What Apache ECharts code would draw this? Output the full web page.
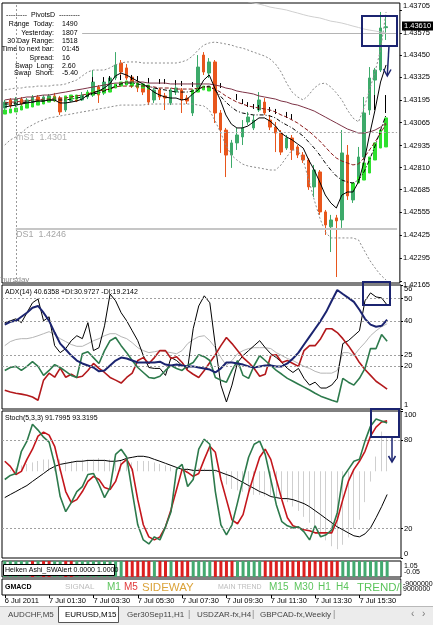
<!DOCTYPE html>
<html>
<head>
<meta charset="utf-8">
<script src="https://cdn.jsdelivr.net/npm/echarts@6/dist/echarts.min.js"></script>
<style>
  html, body { margin: 0; padding: 0; background: #fff; }
  #chart { width: 433px; height: 625px; }
</style>
</head>
<body>
<div id="chart"></div>
<script>
// EURUSD M15, 6 Jul 23:30 .. 7 Jul 16:45 (70 bars, 2 empty slots on the right)
const opens = [1.43148,1.43194,1.43165,1.43199,1.43171,1.43182,1.43211,1.43188,1.43199,1.43217,
  1.43205,1.43137,1.43188,1.43194,1.43194,1.43211,1.43222,1.43268,1.43234,1.43251,
  1.43319,1.43404,1.43376,1.43324,1.43290,1.43268,1.43262,1.43194,1.43251,1.43217,
  1.43177,1.43239,1.43251,1.43205,1.43120,1.43268,1.43449,1.43347,1.43410,1.43120,
  1.43023,1.42881,1.42950,1.42984,1.43069,1.43035,1.43137,1.43182,1.43080,1.43040,
  1.43006,1.42921,1.42978,1.42927,1.42881,1.42853,1.42700,1.42785,1.42558,1.42473,
  1.42524,1.42512,1.42881,1.42626,1.42739,1.42870,1.43137,1.43307,1.43364,1.43605];
const closes = [1.43182,1.43160,1.43199,1.43171,1.43194,1.43211,1.43188,1.43211,1.43217,1.43199,
  1.43126,1.43194,1.43194,1.43188,1.43222,1.43234,1.43296,1.43222,1.43296,1.43319,
  1.43393,1.43353,1.43319,1.43279,1.43262,1.43239,1.43182,1.43251,1.43211,1.43205,
  1.43251,1.43262,1.43194,1.43188,1.43239,1.43381,1.43353,1.43410,1.43120,1.43023,
  1.42881,1.42950,1.42995,1.43035,1.43097,1.43080,1.43194,1.43120,1.43040,1.43006,
  1.42898,1.42978,1.42910,1.42881,1.42853,1.42700,1.42796,1.42558,1.42484,1.42512,
  1.42507,1.42893,1.42649,1.42694,1.42870,1.43120,1.43319,1.43364,1.43603,1.43610];
const lows = [1.43126,1.43148,1.43154,1.43160,1.43160,1.43171,1.43177,1.43177,1.43188,1.43182,
  1.43109,1.43126,1.43182,1.43182,1.43188,1.43199,1.43211,1.43177,1.43222,1.43239,
  1.43307,1.43336,1.43307,1.43262,1.43239,1.43222,1.43165,1.43177,1.43194,1.43137,
  1.43165,1.43222,1.43120,1.43171,1.43103,1.43251,1.43336,1.43319,1.43063,1.42893,
  1.42756,1.42808,1.42910,1.42938,1.43052,1.43023,1.43126,1.43109,1.43023,1.42898,
  1.42881,1.42910,1.42853,1.42864,1.42836,1.42683,1.42643,1.42541,1.42427,1.42330,
  1.42188,1.42467,1.42626,1.42609,1.42722,1.42853,1.43109,1.43211,1.43353,1.43535];
const highs = [1.43194,1.43205,1.43211,1.43211,1.43205,1.43222,1.43222,1.43222,1.43228,1.43234,
  1.43217,1.43205,1.43211,1.43205,1.43239,1.43251,1.43364,1.43279,1.43307,1.43330,
  1.43466,1.43421,1.43398,1.43336,1.43302,1.43279,1.43273,1.43262,1.43262,1.43234,
  1.43262,1.43279,1.43262,1.43222,1.43251,1.43449,1.43466,1.43432,1.43421,1.43137,
  1.43035,1.42967,1.43035,1.43080,1.43126,1.43109,1.43239,1.43205,1.43109,1.43069,
  1.43023,1.42995,1.42995,1.42938,1.42898,1.42864,1.42825,1.42796,1.42569,1.42541,
  1.42541,1.43023,1.42938,1.42711,1.42927,1.43211,1.43381,1.43376,1.43694,1.43677];

// moving averages and envelope on the price panel
const maFast = [1.43154,1.43160,1.43165,1.43171,1.43177,1.43182,1.43188,1.43188,1.43194,1.43194,
  1.43177,1.43177,1.43182,1.43188,1.43199,1.43222,1.43234,1.43245,1.43262,1.43285,
  1.43330,1.43347,1.43336,1.43319,1.43302,1.43285,1.43262,1.43239,1.43222,1.43211,
  1.43205,1.43205,1.43194,1.43199,1.43228,1.43251,1.43307,1.43336,1.43262,1.43194,
  1.43109,1.43057,1.43035,1.43035,1.43046,1.43069,1.43092,1.43092,1.43074,1.43046,
  1.43006,1.42984,1.42967,1.42944,1.42921,1.42853,1.42796,1.42728,1.42654,1.42609,
  1.42580,1.42654,1.42671,1.42671,1.42728,1.42841,1.42995,1.43137,1.43296,1.43393];
const maMid = [1.43171,1.43171,1.43177,1.43177,1.43182,1.43182,1.43188,1.43188,1.43194,1.43194,
  1.43194,1.43194,1.43199,1.43205,1.43211,1.43217,1.43228,1.43234,1.43245,1.43256,
  1.43273,1.43285,1.43290,1.43290,1.43285,1.43279,1.43273,1.43262,1.43256,1.43251,
  1.43245,1.43239,1.43239,1.43239,1.43245,1.43256,1.43268,1.43273,1.43251,1.43217,
  1.43182,1.43154,1.43131,1.43120,1.43114,1.43109,1.43109,1.43109,1.43103,1.43092,
  1.43069,1.43052,1.43035,1.43012,1.42989,1.42955,1.42921,1.42881,1.42836,1.42796,
  1.42762,1.42739,1.42728,1.42722,1.42739,1.42785,1.42853,1.42932,1.43023,1.43109];
const maRed = [1.43177,1.43182,1.43182,1.43188,1.43188,1.43194,1.43194,1.43199,1.43199,1.43205,
  1.43205,1.43205,1.43211,1.43217,1.43222,1.43228,1.43239,1.43245,1.43251,1.43256,
  1.43268,1.43273,1.43273,1.43273,1.43273,1.43273,1.43268,1.43268,1.43262,1.43262,
  1.43262,1.43256,1.43256,1.43256,1.43256,1.43262,1.43268,1.43268,1.43256,1.43239,
  1.43217,1.43199,1.43182,1.43171,1.43160,1.43154,1.43148,1.43143,1.43137,1.43126,
  1.43109,1.43097,1.43080,1.43063,1.43040,1.43018,1.42989,1.42961,1.42927,1.42893,
  1.42864,1.42847,1.42836,1.42825,1.42830,1.42864,1.42910,1.42955,1.43006,1.43057];
const maSlow = [1.43194,1.43199,1.43199,1.43205,1.43211,1.43211,1.43217,1.43222,1.43222,1.43228,
  1.43234,1.43239,1.43245,1.43251,1.43256,1.43262,1.43268,1.43273,1.43279,1.43285,
  1.43290,1.43290,1.43296,1.43296,1.43296,1.43296,1.43290,1.43290,1.43290,1.43290,
  1.43285,1.43285,1.43285,1.43285,1.43285,1.43285,1.43285,1.43285,1.43279,1.43273,
  1.43262,1.43256,1.43245,1.43239,1.43234,1.43228,1.43217,1.43211,1.43205,1.43199,
  1.43188,1.43182,1.43171,1.43165,1.43154,1.43143,1.43131,1.43114,1.43097,1.43080,
  1.43063,1.43046,1.43029,1.43018,1.43006,1.43006,1.43012,1.43023,1.43040,1.43063];
const bandUp = [1.43251,1.43256,1.43262,1.43262,1.43268,1.43268,1.43273,1.43273,1.43273,1.43279,
  1.43279,1.43285,1.43296,1.43307,1.43330,1.43353,1.43364,1.43364,1.43364,1.43376,
  1.43393,1.43404,1.43410,1.43410,1.43410,1.43404,1.43404,1.43404,1.43404,1.43404,
  1.43404,1.43404,1.43410,1.43421,1.43444,1.43478,1.43506,1.43518,1.43523,1.43518,
  1.43512,1.43506,1.43495,1.43489,1.43478,1.43466,1.43455,1.43444,1.43427,1.43398,
  1.43353,1.43290,1.43239,1.43211,1.43194,1.43222,1.43262,1.43285,1.43290,1.43268,
  1.43234,1.43194,1.43137,1.43092,1.43069,1.43148,1.43251,1.43353,1.43478,1.43694];
const bandDn = [1.42938,1.42967,1.42984,1.43006,1.43035,1.43052,1.43069,1.43080,1.43092,1.43097,
  1.43103,1.43109,1.43114,1.43120,1.43126,1.43131,1.43137,1.43143,1.43148,1.43154,
  1.43160,1.43165,1.43165,1.43165,1.43165,1.43165,1.43171,1.43171,1.43171,1.43171,
  1.43171,1.43171,1.43171,1.43171,1.43171,1.43165,1.43160,1.43137,1.43080,1.43012,
  1.42938,1.42881,1.42853,1.42830,1.42819,1.42813,1.42808,1.42802,1.42796,1.42796,
  1.42825,1.42870,1.42910,1.42910,1.42853,1.42739,1.42626,1.42524,1.42444,1.42410,
  1.42410,1.42410,1.42410,1.42410,1.42399,1.42342,1.42285,1.42240,1.42200,1.42171];
const maLong = ['-','-','-','-','-','-','-','-','-','-','-','-','-','-','-','-','-','-','-','-',
  '-','-','-','-','-','-','-','-','-','-','-','-','-','-','-','-','-','-','-','-',
  '-','-','-','-',1.43752,1.43745,1.43739,1.43731,1.43722,1.43716,
  1.43711,1.43705,1.43696,1.43688,1.43679,1.43671,1.43665,1.43660,1.43651,1.43642,
  1.43637,1.43631,1.43623,1.43614,1.43606,1.43597,1.43591,1.43586,1.43580,1.43574];
// lime trend marks: bottom / top
const limeLo = [1.43114,1.43120,1.43126,1.43137,1.43148,1.43154,1.43165,1.43171,1.43182,1.43188,
  '-',1.43194,1.43199,1.43199,'-',1.43217,1.43222,1.43228,1.43234,1.43239,
  1.43262,1.43273,1.43279,1.43273,1.43268,1.43262,1.43256,'-','-','-',
  '-','-','-','-',1.43228,1.43239,1.43251,1.43245,'-','-',
  '-','-','-','-','-','-','-','-','-','-','-','-','-','-','-','-','-','-','-','-',
  '-','-','-',1.42683,1.42722,1.42739,1.42779,1.42853,1.42921,1.42927];
const limeHi = [1.43137,1.43143,1.43148,1.43160,1.43171,1.43177,1.43188,1.43194,1.43205,1.43211,
  '-',1.43217,1.43222,1.43222,'-',1.43239,1.43245,1.43251,1.43256,1.43262,
  1.43285,1.43296,1.43302,1.43296,1.43290,1.43285,1.43279,'-','-','-',
  '-','-','-','-',1.43251,1.43262,1.43273,1.43268,'-','-',
  '-','-','-','-','-','-','-','-','-','-','-','-','-','-','-','-','-','-','-','-',
  '-','-','-',1.42722,1.42756,1.42836,1.42870,1.42950,1.43023,1.43092];
// short black trend ticks: bottom / top
const tickLo = ['-','-','-','-','-','-','-','-','-','-','-','-','-','-','-','-',
  1.43296,'-',1.43296,1.43302,'-',1.43307,'-',1.43307,1.43302,'-',1.43290,'-',1.43285,1.43285,
  '-',1.43279,1.43273,'-',1.43268,'-','-','-','-',1.43262,
  '-','-',1.43194,1.43171,1.43154,1.43143,1.43137,'-',1.43126,1.43114,
  '-',1.43092,1.43080,'-','-','-','-','-','-','-','-','-','-','-','-','-','-',1.43137,'-',1.43120];
const tickHi = ['-','-','-','-','-','-','-','-','-','-','-','-','-','-','-','-',
  1.43324,'-',1.43324,1.43330,'-',1.43336,'-',1.43336,1.43330,'-',1.43319,'-',1.43313,1.43313,
  '-',1.43307,1.43302,'-',1.43296,'-','-','-','-',1.43290,
  '-','-',1.43228,1.43199,1.43182,1.43171,1.43165,'-',1.43154,1.43143,
  '-',1.43126,1.43114,'-','-','-','-','-','-','-','-','-','-','-','-','-','-',1.43222,'-',1.43222];

const priceTicks = [1.43705,1.43575,1.43450,1.43325,1.43195,1.43065,1.42935,1.42810,1.42685,1.42555,1.42425,1.42295,1.42165];
const lastPrice = 1.43610;

// ADX(14)
const adx = [38.4,39.7,40.1,41.9,43.7,45.9,46.7,43.7,40.1,34.9, 30.0,27.4,24.7,22.5,21.2,20.3,19.4,17.7,18.1,20.3,
  22.5,23.8,23.4,22.5,21.6,21.6,21.6,21.6,22.0,20.7, 20.3,20.7,20.3,19.9,19.9,19.4,19.0,18.5,17.2,19.0,
  21.6,21.6,21.2,20.7,19.9,19.4,19.9,20.3,20.3,19.9, 19.9,21.2,23.4,26.0,29.6,33.1,36.6,40.1,44.1,49.0,
  53.8,52.0,50.3,48.5,45.0,41.0,38.4,37.5,37.9,40.6];
const plusDI = [18.1,19.4,19.9,18.1,19.9,22.0,19.9,15.9,18.1,20.7, 19.4,17.7,15.9,15.0,25.5,26.4,23.8,21.2,26.9,31.3,
  32.7,29.1,26.0,22.5,19.4,17.2,15.0,14.6,15.5,18.1, 20.3,19.0,18.1,20.3,21.6,25.1,24.2,22.5,15.0,13.8,
  12.9,18.1,22.5,15.9,14.6,20.3,24.7,22.5,20.3,18.1, 16.4,14.6,13.3,12.0,10.7,9.4,8.0,6.7,5.8,4.9,
  4.1,14.6,12.9,11.6,14.6,19.0,27.8,27.8,34.0,31.0];
const minusDI = [9.3,8.5,8.0,7.6,7.1,6.3,4.9,13.8,16.9,15.1, 19.1,15.1,16.4,15.0,15.5,18.1,21.2,19.0,17.2,15.0,
  13.8,12.5,15.0,16.9,22.5,23.8,21.2,23.8,26.9,26.9, 23.4,24.2,21.6,18.1,16.4,15.0,18.1,21.6,25.1,29.1,
  32.7,30.0,26.9,23.8,21.6,19.0,15.5,16.4,24.7,25.1, 21.6,22.5,21.2,19.9,26.9,29.1,29.1,32.2,36.6,36.6,
  34.9,32.2,29.1,25.5,21.6,18.5,15.9,13.3,11.6,9.8];
const adxRaw = [39.3,40.1,41.0,39.3,43.7,48.1,49.8,40.1,41.9,29.1, 26.0,27.8,31.3,33.5,32.2,39.3,26.9,28.2,37.9,52.0,
  49.0,43.7,40.1,35.7,31.3,24.7,19.4,19.0,19.0,15.9, 23.8,22.5,20.3,19.0,36.6,46.7,51.2,48.1,29.1,11.6,
  4.1,11.6,21.6,24.7,26.9,29.1,31.3,28.2,25.5,23.8, 21.6,19.0,17.2,19.0,14.6,11.6,12.9,10.3,10.3,11.6,
  14.6,30.0,31.3,33.5,35.7,49.0,52.5,50.7,50.3,47.1];
const adxSmooth = [29.1,30.9,31.8,32.2,32.2,32.7,33.5,34.4,35.3,34.0, 32.2,30.9,29.6,28.8,28.8,30.0,31.3,32.2,33.5,34.4,
  34.4,33.1,32.2,30.4,28.2,26.9,26.0,26.4,26.9,26.4, 26.0,25.5,26.9,30.0,31.8,33.1,33.5,31.3,28.2,23.8,
  20.3,22.5,25.5,26.9,27.8,28.2,28.2,28.2,27.8,26.0, 24.7,23.4,22.5,21.2,19.9,19.0,17.7,16.9,16.9,16.9,
  18.1,26.0,26.0,24.7,27.8,30.4,33.5,35.7,37.5,38.8];
const adxTicks = [1, 20, 25, 40, 50, 56];
const adxLevels = [50, 40, 25, 20];

// Stochastic(5,3,3)
const stochK = [53.4,56.2,57.5,72.6,79.5,91.0,87.0,82.2,78.8,63.7, 41.8,31.5,37.7,45.2,48.6,56.8,57.5,50.0,41.1,47.9,
  70.5,74.0,68.5,45.2,22.6,12.3,9.6,14.4,12.3,21.2, 31.5,60.3,63.7,48.6,53.4,74.0,80.8,77.4,45.2,22.6,
  15.8,22.6,37.7,53.4,68.5,77.4,79.5,70.5,53.4,36.3, 24.7,21.9,20.5,21.2,17.8,12.3,21.9,14.4,15.8,19.2,
  30.8,54.8,60.3,65.8,67.1,79.5,89.7,94.5,93.2,91.8];
const stochD = [65.8,62.3,56.8,58.9,67.1,74.0,82.9,85.6,83.6,76.0, 60.3,45.2,37.7,39.7,45.2,52.1,55.5,53.4,47.9,46.6,
  52.1,63.7,67.1,60.3,39.7,22.6,14.4,12.3,14.4,21.2, 32.9,46.6,60.3,58.2,55.5,57.5,67.1,76.0,71.9,53.4,
  39.7,26.0,23.3,29.5,44.5,56.8,68.5,74.0,67.1,53.4, 39.7,27.4,21.9,20.5,19.2,18.5,17.1,17.1,17.1,17.1,
  26.0,39.7,52.1,60.3,65.8,72.6,82.9,89.0,92.5,93.3];
const stochLong = [41.1,43.2,45.2,47.3,49.3,52.1,54.8,57.5,60.3,62.3, 63.7,64.4,65.1,65.8,65.8,66.4,66.4,66.4,66.4,65.8,
  65.8,66.4,67.8,68.5,69.2,69.2,68.5,67.1,65.8,64.4, 63.0,61.6,60.3,60.3,59.6,59.6,59.6,59.6,59.6,58.2,
  56.8,55.5,53.4,51.4,49.3,47.3,45.2,43.8,41.8,41.1, 40.4,40.4,39.7,38.4,37.0,34.9,32.2,29.5,26.7,24.0,
  21.2,19.2,17.1,15.1,14.4,16.4,20.5,27.4,34.9,43.2];
const stochHist = [59,60,61,63,64,65,66,67,67,67, 67,66,66,66,67,67,67,68,67,67,
  67,66,66,65,66,66,66,65,64,63, 62,62,61,61,60,61,61,60,58,54,
  50,47,46,45,44,43,43,42,42,41, 40,38,35,32,28,24,20,16,12,8,
  6,9,14,20,26,38,52,69,86,82];
const histBase = 59;
const stochTicks = [0, 20, 80, 100];
const stochLevels = [80, 20];

// Heiken Ashi strip: 1 = up (green), 0 = down (red)
const haTrend = [1,1,1,1,1,0,1,0,0,1, 1,0,0,1,1,1,1,1,1,1,
  1,1,0,0,0,0,0,1,0,0, 1,0,0,0,1,1,1,1,0,0,
  0,0,1,1,1,1,1,0,0,0, 0,0,0,0,0,0,0,0,0,0,
  0,1,1,1,1,1,1,1,1,1];

const timeLabels = ['6 Jul 2011','7 Jul 01:30','7 Jul 03:30','7 Jul 05:30','7 Jul 07:30',
  '7 Jul 09:30','7 Jul 11:30','7 Jul 13:30','7 Jul 15:30'];

// bar slots: 15 minute steps from 6 Jul 23:30
const slots = [];
for (let i = 0; i < 72; i++) {
  const m = (23 * 60 + 30 + 15 * i) % 1440;
  slots.push(String(Math.floor(m / 60)).padStart(2, '0') + ':' + String(m % 60).padStart(2, '0'));
}

const candles = opens.map((o, i) => [o, closes[i], lows[i], highs[i]]);
const lime = limeLo.map((v, i) => v === '-' ? ['-','-','-','-'] : [v, limeHi[i], v, limeHi[i]]);
const ticks = tickLo.map((v, i) => v === '-' ? ['-','-','-','-'] : [v, tickHi[i], v, tickHi[i]]);
const hist = stochHist.map(v => [histBase, v, Math.min(v, histBase), Math.max(v, histBase)]);

const FONT = '"Liberation Sans", Arial, sans-serif';
const UP = '#3daa6a', DOWN = '#e8561c';
const NAVY = '#1b2470';

const gridTops = [3, 285, 411, 561, 579];
const gridHeights = [280, 124, 147, 16, 16];

const chart = echarts.init(document.getElementById('chart'));

const xAxes = gridTops.map((t, i) => ({
  type: 'category', gridIndex: i, data: slots, boundaryGap: true,
  axisLine: { show: false },
  axisTick: i === 4 ? {
    show: true, alignWithLabel: true, length: 3, lineStyle: { color: '#000' },
    interval: (idx) => idx % 8 === 0 && idx <= 64
  } : { show: false },
  axisLabel: i === 4 ? {
    show: true, fontSize: 7.5, color: '#000', fontFamily: FONT, align: 'left', margin: 2,
    interval: (idx) => idx % 8 === 0 && idx <= 64,
    formatter: (v, idx) => timeLabels[Math.round(idx / 8)] || ''
  } : { show: false },
  splitLine: { show: false }
}));

function valueAxis(i, min, max, custom, fmt) {
  return {
    type: 'value', gridIndex: i, position: 'right', min: min, max: max,
    axisLine: { show: false },
    splitLine: { show: false },
    axisTick: custom ? { show: true, length: 2, customValues: custom, lineStyle: { color: '#000' } } : { show: false },
    axisLabel: custom ? {
      show: true, customValues: custom, fontSize: 7.5, color: '#000', fontFamily: FONT, margin: 3,
      formatter: fmt, verticalAlignMaxLabel: 'top', verticalAlignMinLabel: 'bottom'
    } : { show: false }
  };
}

const levelLine = (vals) => ({
  silent: true, symbol: 'none', animation: false,
  label: { show: false },
  lineStyle: { color: '#a0a0a0', type: [2, 2], width: 1 },
  data: vals.map(v => ({ yAxis: v }))
});

const line = (data, xi, color, width, type, extra) => Object.assign({
  type: 'line', xAxisIndex: xi, yAxisIndex: xi, data: data, symbol: 'none',
  lineStyle: { color: color, width: width, type: type || 'solid' }, silent: true
}, extra || {});

const series = [
  // price panel
  line(bandUp, 0, '#8c8c8c', 1, [2, 2]),
  line(bandDn, 0, '#8c8c8c', 1, [2, 2]),
  line(maLong, 0, '#cfcfcf', 1),
  {
    type: 'candlestick', xAxisIndex: 0, yAxisIndex: 0, data: candles, barWidth: 3,
    itemStyle: { color: UP, color0: DOWN, borderColor: UP, borderColor0: DOWN, borderWidth: 1 },
    markLine: {
      silent: true, symbol: 'none', animation: false, label: { show: false },
      data: [
        { xAxis: 2, lineStyle: { color: '#9a9a9a', type: [2, 2], width: 1 } },
        [{ coord: [2, 1.4301], lineStyle: { color: '#a8a8a8', type: [2, 2], width: 1 } }, { coord: [71, 1.4301] }],
        [{ coord: [2, 1.4246], lineStyle: { color: '#c6c6c6', type: 'solid', width: 2 } }, { coord: [71, 1.4246] }],
        [{ coord: [14, 1.43574], lineStyle: { color: '#b4b4b4', type: 'solid', width: 1 } }, { coord: [71, 1.43574] }]
      ]
    }
  },
  {
    type: 'candlestick', xAxisIndex: 0, yAxisIndex: 0, data: lime, barWidth: 3,
    itemStyle: { color: '#2ee02e', color0: '#2ee02e', borderColor: '#2ee02e', borderColor0: '#2ee02e' }
  },
  {
    type: 'candlestick', xAxisIndex: 0, yAxisIndex: 0, data: ticks, barWidth: 1,
    itemStyle: { color: '#000', color0: '#000', borderColor: '#000', borderColor0: '#000', borderWidth: 1 }
  },
  line(maSlow, 0, '#7d3346', 1),
  line(maRed, 0, '#8b1a1a', 1, [4, 2]),
  line(maMid, 0, '#000', 1, [4, 2, 1, 2]),
  line(maFast, 0, '#000', 1),

  // ADX panel
  line(adxSmooth, 1, '#b5b5b5', 1),
  line(adxRaw, 1, '#000', 1),
  line(minusDI, 1, '#b3191c', 1.6),
  line(plusDI, 1, '#2d7a4c', 1.6),
  line(adx, 1, NAVY, 2, 'solid', { markLine: levelLine(adxLevels) }),

  // Stochastic panel
  {
    type: 'candlestick', xAxisIndex: 2, yAxisIndex: 2, data: hist, barWidth: 1,
    itemStyle: { color: '#cfcfcf', color0: '#cfcfcf', borderColor: '#cfcfcf', borderColor0: '#cfcfcf' }
  },
  line(stochLong, 2, '#000', 1, 'solid', { markLine: levelLine(stochLevels) }),
  line(stochD, 2, '#c4161c', 1.6),
  line(stochK, 2, '#2d7a4c', 1.6),

  // Heiken Ashi strip
  {
    type: 'bar', xAxisIndex: 3, yAxisIndex: 3, barWidth: 3, silent: true,
    data: haTrend.map(v => ({ value: 1, itemStyle: { color: v ? '#43a96f' : '#dc1f1f' } }))
  },
  // GMACD strip (text only)
  { type: 'line', xAxisIndex: 4, yAxisIndex: 4, data: [], symbol: 'none' }
];

const T = (text, x, y, opt) => Object.assign({
  type: 'text', x: x, y: y, z: 100, silent: true,
  style: Object.assign({
    text: text, fill: '#000', font: '7px ' + FONT, textAlign: 'left', textVerticalAlign: 'middle'
  }, opt || {})
});

const infoRows = [
  ['Range  Today:', '1490'], ['Yesterday:', '1807'], ['30 Day Range:', '1518'],
  ['Time to next bar:', '01:45'], ['Spread:', '16'], ['Swap  Long:', '2.60'], ['Swap  Short:', '-5.40']
];
const infoY = [24.3, 32.7, 41.3, 49.3, 57.7, 65.7, 73.3];

const graphics = [
  T('---------  PivotsD  ---------', 43, 15.5, { textAlign: 'center' }),
  ...infoRows.flatMap((r, k) => [
    T(r[0], 54, infoY[k], { textAlign: 'right' }),
    T(r[1], 62, infoY[k])
  ]),
  T('mS1  1.4301', 16, 138, { fill: '#b2b2b2', font: '9px ' + FONT }),
  T('DS1  1.4246', 16, 235, { fill: '#a6a6a6', font: '9px ' + FONT }),
  T('Thursday', -4, 280, { fill: '#8c8c8c', font: '8px ' + FONT }),
  T('ADX(14) 40.6358 +DI:30.9727 -DI:19.2142', 5, 292),
  T('Stoch(5,3,3) 91.7995 93.3195', 5, 418),

  // current price tag
  { type: 'rect', z: 100, silent: true, shape: { x: 402, y: 21.5, width: 31, height: 9 }, style: { fill: '#000' } },
  T('1.43610', 404, 26.2, { fill: '#fff', font: '7.5px ' + FONT }),

  // Heiken Ashi caption
  { type: 'rect', z: 100, silent: true, shape: { x: 3.5, y: 564.5, width: 111, height: 11 }, style: { fill: '#fff', stroke: '#000', lineWidth: 1 } },
  T('Heiken Ashi_SWAlert 0.0000 1.0000', 5, 570),
  T('1.05', 404, 566, { font: '7px ' + FONT }),
  T('-0.05', 404, 572, { font: '7px ' + FONT }),

  // GMACD strip
  T('GMACD', 5, 587, { font: 'bold 7px ' + FONT }),
  T('SIGNAL', 65, 587, { fill: '#bdbdbd', font: '8px ' + FONT }),
  T('M1', 107, 587.5, { fill: '#5cc45c', font: '10px ' + FONT }),
  T('M5', 124, 587.5, { fill: '#e03a3a', font: '10px ' + FONT }),
  T('SIDEWAY', 142, 588, { fill: '#dba33a', font: '11.5px ' + FONT }),
  T('MAIN TREND', 218, 587, { fill: '#bdbdbd', font: '7px ' + FONT }),
  T('M15', 269, 587.5, { fill: '#5cc45c', font: '10px ' + FONT }),
  T('M30', 294, 587.5, { fill: '#5cc45c', font: '10px ' + FONT }),
  T('H1', 318, 587.5, { fill: '#5cc45c', font: '10px ' + FONT }),
  T('H4', 336, 587.5, { fill: '#5cc45c', font: '10px ' + FONT }),
  T('TREND/U', 357, 588, { fill: '#5cc45c', font: '11.5px ' + FONT }),
  { type: 'rect', z: 100, silent: true, shape: { x: 401.5, y: 578, width: 32, height: 18 }, style: { fill: '#fff' } },
  T('-9000000', 403, 584, { font: '7px ' + FONT }),
  T('9000000', 403, 589, { font: '7px ' + FONT }),

  // blue annotation boxes and arrows
  { type: 'rect', z: 110, silent: true, shape: { x: 362, y: 16, width: 35, height: 30 }, style: { fill: null, stroke: NAVY, lineWidth: 2 } },
  { type: 'line', z: 110, silent: true, shape: { x1: 389, y1: 46, x2: 387.3, y2: 75 }, style: { stroke: NAVY, lineWidth: 1.5 } },
  { type: 'polyline', z: 110, silent: true, shape: { points: [[383.5, 69], [387.3, 76], [391, 69.5]] }, style: { stroke: NAVY, lineWidth: 1.5, fill: null } },
  { type: 'rect', z: 110, silent: true, shape: { x: 363, y: 282, width: 27, height: 23 }, style: { fill: null, stroke: NAVY, lineWidth: 2 } },
  { type: 'rect', z: 110, silent: true, shape: { x: 371, y: 409, width: 28, height: 28 }, style: { fill: null, stroke: NAVY, lineWidth: 2 } },
  { type: 'line', z: 110, silent: true, shape: { x1: 392, y1: 437, x2: 392, y2: 461 }, style: { stroke: NAVY, lineWidth: 1.5 } },
  { type: 'polyline', z: 110, silent: true, shape: { points: [[388.5, 456], [392, 462], [395.5, 456]] }, style: { stroke: NAVY, lineWidth: 1.5, fill: null } },

  // symbol tabs
  { type: 'rect', z: 90, silent: true, shape: { x: 0, y: 606, width: 433, height: 19 }, style: { fill: '#ececec' } },
  { type: 'line', z: 91, silent: true, shape: { x1: 0, y1: 606.5, x2: 433, y2: 606.5 }, style: { stroke: '#b9b9b9', lineWidth: 1 } },
  { type: 'rect', z: 92, silent: true, shape: { x: 58.5, y: 606.5, width: 60, height: 16 }, style: { fill: '#fff', stroke: '#555', lineWidth: 1 } },
  T('AUDCHF,M5', 8, 615, { fill: '#444', font: '8px ' + FONT }),
  T('EURUSD,M15', 65, 615, { fill: '#000', font: '8px ' + FONT }),
  T('Ger30Sep11,H1', 127, 615, { fill: '#444', font: '8px ' + FONT }),
  T('|', 188, 615, { fill: '#888', font: '9px ' + FONT }),
  T('USDZAR-fx,H4', 197, 615, { fill: '#444', font: '8px ' + FONT }),
  T('|', 252, 615, { fill: '#888', font: '9px ' + FONT }),
  T('GBPCAD-fx,Weekly', 260, 615, { fill: '#444', font: '8px ' + FONT }),
  T('|', 333, 615, { fill: '#888', font: '9px ' + FONT }),
  T('\u2039', 411, 614.5, { fill: '#777', font: '10px ' + FONT }),
  T('\u203A', 422, 614.5, { fill: '#777', font: '10px ' + FONT })
];

chart.setOption({
  animation: false,
  backgroundColor: '#fff',
  textStyle: { fontFamily: FONT },
  grid: gridTops.map((t, i) => ({
    left: 2, right: 32, top: t, height: gridHeights[i],
    show: true, borderColor: '#000', borderWidth: 1, backgroundColor: '#fff'
  })),
  xAxis: xAxes,
  yAxis: [
    valueAxis(0, 1.42154, 1.43745, priceTicks, v => v.toFixed(5)),
    valueAxis(1, 1, 56, adxTicks, v => String(v)),
    valueAxis(2, 0, 100, stochTicks, v => String(v)),
    valueAxis(3, 0, 1, null),
    valueAxis(4, 0, 1, null)
  ],
  series: series,
  graphic: { elements: graphics }
});
</script>
</body>
</html>
